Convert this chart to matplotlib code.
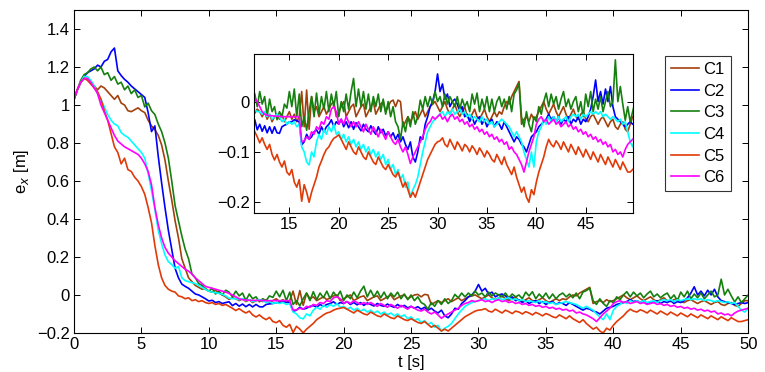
import numpy as np
import matplotlib
matplotlib.use('Agg')
import matplotlib.pyplot as plt
from matplotlib.ticker import FuncFormatter

plt.rcParams['font.family'] = ['Liberation Sans', 'DejaVu Sans']

t = np.linspace(0, 50, 201)

c1 = [1.03, 1.08, 1.12, 1.14, 1.14, 1.12, 1.10, 1.08,
      1.10, 1.09, 1.07, 1.05, 1.03, 1.05, 1.01, 1.00,
      0.97, 0.965, 0.975, 0.985, 0.97, 0.96, 0.92, 0.89,
      0.87, 0.84, 0.79, 0.71, 0.60, 0.50, 0.39, 0.30,
      0.19, 0.14, 0.09, 0.07, 0.05, 0.04, 0.03, 0.035,
      0.02, 0.015, 0.025, 0.01, 0.0, -0.01, -0.023, -0.015,
      -0.02, -0.03, -0.02, -0.035, -0.025, -0.04, -0.03, -0.025,
      -0.035, -0.025, -0.04, -0.03, -0.02, -0.035, -0.025, -0.04,
      -0.03, 0.02, -0.05, 0.023, -0.055, 0.01, -0.02, -0.01,
      -0.03, -0.02, -0.01, -0.025, -0.015, -0.005, 0.0, -0.03,
      -0.02, -0.01, 0.0, -0.03, -0.02, -0.01, -0.005, -0.03,
      -0.02, -0.01, -0.005, -0.03, -0.02, -0.01, 0.0, -0.025,
      -0.015, -0.005, 0.0, -0.02, -0.01, 0.0, 0.003, -0.01,
      0.003, 0.0, -0.05, -0.04, -0.03, -0.04, -0.03, -0.02,
      -0.035, -0.025, -0.015, -0.03, -0.02, -0.01, -0.005, 0.0,
      -0.01, -0.02, -0.01, 0.0, -0.015, -0.025, -0.015, -0.005,
      -0.02, -0.03, -0.02, -0.01, -0.03, -0.035, -0.025, -0.015,
      -0.03, -0.035, -0.025, -0.015, -0.03, -0.04, -0.03, -0.02,
      -0.03, -0.02, -0.025, -0.01, 0.0, -0.005, 0.01, 0.02,
      0.03, 0.04, -0.045, -0.035, -0.03, -0.04, -0.025, -0.035,
      -0.03, -0.02, -0.01, 0.0, -0.015, -0.025, -0.015, -0.005,
      -0.02, -0.03, -0.02, -0.01, -0.025, -0.035, -0.025, -0.015,
      -0.03, -0.035, -0.025, -0.02, -0.035, -0.04, -0.03, -0.025,
      -0.035, -0.045, -0.035, -0.03, -0.04, -0.05, -0.04, -0.035,
      -0.05, -0.055, -0.045, -0.04, -0.055, -0.06, -0.045, -0.03,
      -0.03]

c2 = [1.03, 1.08, 1.12, 1.15, 1.17, 1.18, 1.19, 1.21,
      1.20, 1.23, 1.24, 1.28, 1.30, 1.18, 1.155, 1.135,
      1.12, 1.10, 1.085, 1.07, 1.055, 1.04, 0.96, 0.86,
      0.89, 0.73, 0.59, 0.46, 0.34, 0.24, 0.14, 0.09,
      0.057, 0.045, 0.035, 0.02, 0.005, 0.0, -0.01, -0.02,
      -0.032, -0.028, -0.04, -0.035, -0.045, -0.04, -0.036, -0.056,
      -0.045, -0.059, -0.048, -0.062, -0.05, -0.063, -0.05, -0.062,
      -0.063, -0.05, -0.047, -0.045, -0.04, -0.04, -0.036, -0.038,
      -0.04, -0.086, -0.08, -0.065, -0.075, -0.07, -0.06, -0.056,
      -0.065, -0.05, -0.06, -0.05, -0.045, -0.036, -0.05, -0.04,
      -0.045, -0.035, -0.05, -0.04, -0.052, -0.04, -0.055, -0.042,
      -0.05, -0.058, -0.045, -0.055, -0.06, -0.048, -0.058, -0.065,
      -0.05, -0.062, -0.055, -0.068, -0.06, -0.07, -0.062, -0.075,
      -0.065, -0.08, -0.07, -0.085, -0.095, -0.08, -0.11, -0.12,
      -0.10, -0.07, -0.075, -0.045, -0.03, -0.01, 0.0, 0.02,
      0.055, 0.02, 0.035, 0.005, 0.015, -0.01, 0.0, 0.005,
      -0.005, -0.02, -0.01, -0.03, -0.025, -0.04, -0.03, -0.045,
      -0.035, -0.03, -0.045, -0.035, -0.05, -0.04, -0.035, -0.05,
      -0.04, -0.045, -0.055, -0.04, -0.05, -0.06, -0.07, -0.08,
      -0.07, -0.075, -0.085, -0.09, -0.10, -0.085, -0.07, -0.065,
      -0.06, -0.05, -0.045, -0.04, -0.035, -0.025, -0.035, -0.03,
      -0.04, -0.03, -0.045, -0.035, -0.04, -0.03, -0.045, -0.035,
      -0.04, -0.03, -0.045, -0.035, -0.04, -0.03, -0.015, 0.01,
      0.043, 0.0, 0.02, -0.005, 0.025, 0.0, 0.03, -0.01,
      -0.03, -0.035, -0.04, -0.045, -0.05, -0.045, -0.04, -0.045,
      -0.04]

c3 = [1.03, 1.08, 1.13, 1.16, 1.17, 1.19, 1.20, 1.18,
      1.20, 1.16, 1.17, 1.13, 1.15, 1.11, 1.12, 1.08,
      1.10, 1.06, 1.08, 1.04, 1.05, 0.99, 1.01, 0.97,
      0.95, 0.90, 0.86, 0.80, 0.72, 0.60, 0.47, 0.39,
      0.31, 0.24, 0.19, 0.11, 0.09, 0.06, 0.05, 0.03,
      0.02, 0.035, 0.005, 0.02, 0.0, 0.025, 0.015, -0.01,
      0.02, -0.005, 0.01, -0.029, 0.005, -0.02, -0.01, -0.036,
      -0.02, -0.03, -0.005, -0.013, 0.02, -0.01, 0.025, -0.03,
      0.015, -0.05, -0.03, -0.057, -0.02, 0.01, -0.03, 0.017,
      -0.025, 0.01, -0.015, 0.02, -0.02, 0.015, -0.01, 0.02,
      -0.03, 0.0, -0.02, 0.015, -0.015, 0.02, 0.046, -0.01,
      0.025, -0.01, 0.02, -0.015, 0.015, -0.02, 0.01, -0.01,
      0.015, -0.02, 0.005, -0.025, 0.0, -0.03, -0.01, -0.04,
      -0.05, -0.075, -0.04, -0.06, -0.03, -0.05, -0.02, -0.045,
      -0.03, 0.003, -0.015, 0.01, -0.01, 0.01, -0.005, 0.02,
      0.0, 0.01, -0.01, 0.015, -0.005, 0.01, 0.0, -0.01,
      0.01, -0.015, 0.005, -0.01, 0.0, -0.02, 0.015, -0.005,
      0.017, -0.02, 0.005, -0.015, 0.01, -0.02, 0.005, -0.02,
      0.0, 0.01, -0.01, 0.005, -0.015, 0.01, -0.02, 0.015,
      0.023, 0.036, -0.03, -0.05, -0.02, -0.045, -0.06, -0.03,
      -0.04, -0.01, -0.025, 0.0, 0.017, -0.01, 0.015, -0.005,
      0.01, -0.015, 0.005, 0.02, -0.01, 0.005, -0.015, 0.0,
      0.01, -0.02, 0.0, -0.03, 0.015, -0.01, 0.02, -0.02,
      0.005, -0.015, 0.01, -0.02, 0.0, 0.02, -0.01, 0.0,
      0.083, 0.0, 0.03, -0.005, -0.037, -0.01, -0.04, -0.02,
      0.0]

c4 = [1.03, 1.08, 1.12, 1.15, 1.15, 1.13, 1.10, 1.06,
      1.03, 0.99, 0.95, 0.92, 0.90, 0.89, 0.855, 0.84,
      0.83, 0.81, 0.79, 0.77, 0.75, 0.72, 0.64, 0.55,
      0.45, 0.34, 0.27, 0.21, 0.175, 0.16, 0.14, 0.15,
      0.09, 0.075, 0.07, 0.065, 0.06, 0.05, 0.04, 0.03,
      0.02, 0.015, 0.012, 0.008, 0.004, -0.005, -0.017, -0.02,
      -0.02, -0.025, -0.02, -0.03, -0.025, -0.035, -0.03, -0.025,
      -0.03, -0.04, -0.035, -0.045, -0.04, -0.045, -0.04, -0.05,
      -0.045, -0.09, -0.10, -0.12, -0.126, -0.10, -0.11, -0.08,
      -0.065, -0.075, -0.055, -0.065, -0.05, -0.06, -0.045, -0.065,
      -0.06, -0.075, -0.065, -0.08, -0.07, -0.085, -0.075, -0.09,
      -0.08, -0.095, -0.085, -0.10, -0.09, -0.105, -0.095, -0.11,
      -0.10, -0.115, -0.105, -0.125, -0.115, -0.135, -0.125, -0.145,
      -0.135, -0.155, -0.145, -0.17, -0.16, -0.19, -0.175, -0.165,
      -0.15, -0.125, -0.10, -0.08, -0.06, -0.05, -0.04, -0.035,
      -0.03, -0.025, -0.02, -0.03, -0.02, -0.025, -0.015, -0.025,
      -0.02, -0.015, -0.025, -0.02, -0.03, -0.025, -0.035, -0.03,
      -0.035, -0.04, -0.03, -0.04, -0.035, -0.045, -0.04, -0.05,
      -0.045, -0.04, -0.035, -0.04, -0.045, -0.05, -0.06, -0.07,
      -0.06, -0.07, -0.08, -0.10, -0.115, -0.13, -0.10, -0.13,
      -0.08, -0.06, -0.05, -0.035, -0.045, -0.03, -0.04, -0.03,
      -0.04, -0.03, -0.04, -0.035, -0.03, -0.04, -0.03, -0.025,
      -0.03, -0.025, -0.035, -0.025, -0.03, -0.025, -0.02, -0.025,
      -0.02, -0.025, -0.02, -0.03, -0.025, -0.03, -0.035, -0.03,
      -0.035, -0.04, -0.035, -0.045, -0.04, -0.06, -0.08, -0.09,
      -0.07]

c5 = [1.03, 1.08, 1.12, 1.14, 1.13, 1.11, 1.09, 1.07,
      1.03, 0.97, 0.92, 0.85, 0.78, 0.75, 0.69, 0.72,
      0.66, 0.65, 0.62, 0.60, 0.57, 0.53, 0.46, 0.38,
      0.26, 0.16, 0.09, 0.05, 0.03, 0.02, 0.015, -0.005,
      -0.01, -0.02, -0.015, -0.03, -0.025, -0.035, -0.03, -0.04,
      -0.045, -0.04, -0.05, -0.045, -0.055, -0.05, -0.06, -0.07,
      -0.082, -0.072, -0.085, -0.095, -0.085, -0.105, -0.116, -0.105,
      -0.12, -0.13, -0.118, -0.14, -0.146, -0.135, -0.16, -0.17,
      -0.155, -0.198, -0.165, -0.18, -0.20, -0.18, -0.165, -0.15,
      -0.13, -0.118, -0.105, -0.095, -0.09, -0.08, -0.073, -0.07,
      -0.066, -0.075, -0.085, -0.095, -0.08, -0.09, -0.10, -0.105,
      -0.09, -0.10, -0.11, -0.115, -0.10, -0.11, -0.12, -0.125,
      -0.11, -0.12, -0.13, -0.135, -0.125, -0.135, -0.145, -0.15,
      -0.14, -0.155, -0.17, -0.16, -0.175, -0.19, -0.18, -0.19,
      -0.175, -0.16, -0.145, -0.13, -0.115, -0.105, -0.095, -0.085,
      -0.08, -0.078, -0.072, -0.085, -0.09, -0.075, -0.085, -0.095,
      -0.08, -0.088, -0.098, -0.085, -0.09, -0.10, -0.088, -0.095,
      -0.105, -0.092, -0.10, -0.11, -0.098, -0.105, -0.115, -0.12,
      -0.105, -0.115, -0.125, -0.11, -0.125, -0.135, -0.145, -0.13,
      -0.15, -0.165, -0.18, -0.17, -0.19, -0.20, -0.175, -0.185,
      -0.16, -0.14, -0.125, -0.11, -0.09, -0.075, -0.085, -0.09,
      -0.078, -0.085, -0.095, -0.08, -0.09, -0.10, -0.085, -0.095,
      -0.105, -0.09, -0.10, -0.11, -0.095, -0.105, -0.115, -0.10,
      -0.11, -0.12, -0.105, -0.115, -0.125, -0.11, -0.12, -0.13,
      -0.115, -0.125, -0.135, -0.12, -0.13, -0.14, -0.14, -0.135,
      -0.13]

c6 = [1.03, 1.08, 1.12, 1.14, 1.14, 1.12, 1.09, 1.06,
      1.00, 0.96, 0.92, 0.88, 0.84, 0.81, 0.795, 0.78,
      0.77, 0.76, 0.75, 0.74, 0.72, 0.69, 0.65, 0.58,
      0.46, 0.37, 0.30, 0.25, 0.22, 0.20, 0.18, 0.165,
      0.15, 0.135, 0.125, 0.11, 0.09, 0.075, 0.06, 0.045,
      0.04, 0.035, 0.03, 0.025, 0.02, 0.015, 0.008, 0.0,
      -0.01, -0.02, -0.025, -0.027, -0.028, -0.028, -0.029, -0.029,
      -0.029, -0.03, -0.03, -0.03, -0.03, -0.03, -0.03, -0.03,
      -0.03, -0.08, -0.078, -0.07, -0.075, -0.06, -0.065, -0.05,
      -0.055, -0.04, -0.045, -0.03, -0.035, -0.015, -0.01, -0.02,
      -0.045, -0.035, -0.045, -0.03, -0.04, -0.05, -0.04, -0.05,
      -0.04, -0.05, -0.06, -0.045, -0.055, -0.065, -0.05, -0.06,
      -0.07, -0.055, -0.065, -0.075, -0.06, -0.07, -0.08, -0.085,
      -0.075, -0.09, -0.10, -0.09, -0.105, -0.123, -0.11, -0.10,
      -0.09, -0.08, -0.07, -0.055, -0.045, -0.04, -0.03, -0.035,
      -0.03, -0.025, -0.035, -0.03, -0.04, -0.03, -0.025, -0.035,
      -0.03, -0.04, -0.035, -0.045, -0.04, -0.05, -0.045, -0.055,
      -0.05, -0.06, -0.055, -0.065, -0.06, -0.07, -0.065, -0.075,
      -0.07, -0.08, -0.075, -0.085, -0.08, -0.095, -0.09, -0.10,
      -0.105, -0.115, -0.125, -0.14, -0.12, -0.10, -0.085, -0.07,
      -0.045, -0.035, -0.03, -0.04, -0.035, -0.045, -0.04, -0.035,
      -0.045, -0.04, -0.05, -0.045, -0.04, -0.05, -0.045, -0.055,
      -0.05, -0.06, -0.055, -0.065, -0.06, -0.07, -0.065, -0.075,
      -0.07, -0.08, -0.075, -0.085, -0.08, -0.09, -0.085, -0.10,
      -0.095, -0.105, -0.10, -0.11, -0.095, -0.085, -0.08, -0.075,
      -0.07]

labels = ['C1', 'C2', 'C3', 'C4', 'C5', 'C6']
colors = ['#a3410c', '#0000ff', '#15800f', '#00ffff', '#e03a08', '#ff00ff']
series = [c1, c2, c3, c4, c5, c6]


def matlab_fmt(v, pos):
    s = f"{v:.1f}" if abs(v - round(v)) > 1e-9 else f"{int(round(v))}"
    return s.replace('-', '\u2212')


def style_axes(ax):
    ax.tick_params(direction='in', length=4, width=0.7, top=True, right=True,
                   labelsize=12, pad=3)
    for sp in ax.spines.values():
        sp.set_linewidth(0.8)


fig = plt.figure(figsize=(7.65, 3.72), dpi=100)

# --- Main axes ---
ax = fig.add_axes([0.0967, 0.105, 0.8813, 0.868])
for y, c, lab in zip(series, colors, labels):
    ax.plot(t, y, color=c, lw=1.2, label=lab)
ax.set_xlim(0, 50)
ax.set_ylim(-0.2, 1.5)
ax.set_xticks(np.arange(0, 51, 5))
ax.set_yticks(np.arange(-0.2, 1.41, 0.2))
ax.yaxis.set_major_formatter(FuncFormatter(matlab_fmt))
ax.set_xlabel('t [s]', fontsize=12, labelpad=2)
ax.set_ylabel('e$_x$ [m]', fontsize=12, labelpad=4)
style_axes(ax)

# --- Inset (zoom on the steady-state part) ---
axin = fig.add_axes([0.3324, 0.4266, 0.4946, 0.4274])
for y, c in zip(series, colors):
    axin.plot(t, y, color=c, lw=1.2)
axin.set_xlim(11.45, 49.75)
axin.set_ylim(-0.222, 0.094)
axin.set_xticks([15, 20, 25, 30, 35, 40, 45])
axin.set_yticks([-0.2, -0.1, 0])
axin.yaxis.set_major_formatter(FuncFormatter(matlab_fmt))
style_axes(axin)

# --- Legend ---
leg = fig.legend(loc='upper left', bbox_to_anchor=(665 / 765, 1 - 56 / 372),
                 fontsize=12, frameon=True, fancybox=False, borderaxespad=0,
                 handlelength=1.7, handletextpad=0.25, labelspacing=0.4,
                 borderpad=0.35)
leg.get_frame().set_edgecolor('black')
leg.get_frame().set_linewidth(0.8)

plt.savefig('out.png', dpi=100)
